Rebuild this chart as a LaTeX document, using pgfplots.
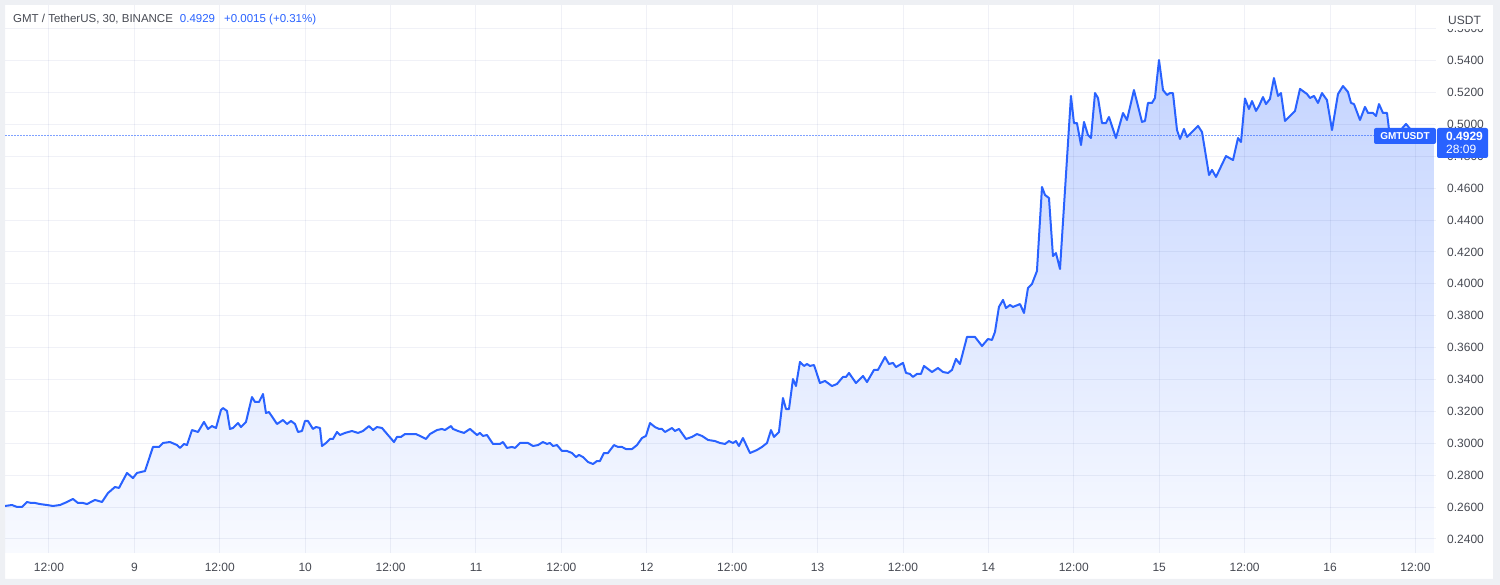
\documentclass[border=0pt]{standalone}
\usepackage{pgfplots}
\pgfplotsset{compat=1.18}
\usepackage{pgfplotstable}
\usepgfplotslibrary{fillbetween}
\usepackage{fontspec}
\setmainfont{Liberation Sans}

\definecolor{lineblue}{RGB}{41,98,255}
\definecolor{gridc}{RGB}{40,60,140}
\definecolor{fillTop}{RGB}{196,212,255}
\definecolor{fillBot}{RGB}{248,250,255}
\definecolor{txt}{RGB}{70,73,82}
\definecolor{outer}{RGB}{238,240,244}

% GMTUSDT, 30 min closes; x = hours since day 8 00:00
\pgfplotstableread{
h v
5.82 0.2607
6.80 0.2613
7.50 0.2601
8.21 0.2601
8.91 0.2632
9.47 0.2626
10.03 0.2626
10.74 0.2619
11.72 0.2613
12.56 0.2607
13.55 0.2613
14.53 0.2632
15.37 0.2651
16.07 0.2626
16.78 0.2626
17.34 0.2619
18.46 0.2645
19.45 0.2632
20.29 0.2688
21.27 0.2726
21.84 0.2720
22.96 0.2814
23.80 0.2782
24.36 0.2814
25.49 0.2826
26.61 0.2977
27.46 0.2977
28.02 0.3002
29.00 0.3008
29.99 0.2989
30.41 0.2971
30.97 0.2996
31.39 0.2989
32.09 0.3083
32.94 0.3071
33.78 0.3134
34.34 0.3090
34.90 0.3108
35.47 0.3096
36.17 0.3209
36.45 0.3221
37.01 0.3203
37.43 0.3090
37.85 0.3096
38.56 0.3127
38.98 0.3102
39.68 0.3134
40.52 0.3290
40.95 0.3259
41.51 0.3259
42.07 0.3309
42.49 0.3190
42.91 0.3196
44.04 0.3121
44.88 0.3146
45.44 0.3121
46.00 0.3140
46.57 0.3121
46.99 0.3071
47.55 0.3077
47.97 0.3140
48.39 0.3140
49.09 0.3090
49.52 0.3102
50.08 0.3096
50.36 0.2983
50.92 0.3002
51.48 0.3027
51.90 0.3027
52.47 0.3071
52.89 0.3052
53.59 0.3065
54.57 0.3077
55.42 0.3065
56.12 0.3077
56.96 0.3108
57.53 0.3083
58.09 0.3102
58.79 0.3096
59.63 0.3052
60.48 0.3008
60.90 0.3040
61.46 0.3040
62.02 0.3058
62.72 0.3058
63.57 0.3058
64.41 0.3040
64.97 0.3027
65.53 0.3058
66.52 0.3083
67.22 0.3090
67.64 0.3083
68.06 0.3096
68.49 0.3108
68.77 0.3090
69.47 0.3077
70.31 0.3065
71.16 0.3090
72.14 0.3052
72.56 0.3065
72.98 0.3046
73.54 0.3052
74.39 0.2996
75.37 0.2996
75.79 0.3008
76.35 0.2971
77.06 0.2977
77.48 0.2971
78.18 0.3002
79.30 0.3002
80.01 0.2983
80.71 0.2989
81.41 0.3008
81.97 0.2996
82.40 0.3002
82.82 0.2983
83.38 0.2989
84.08 0.2952
84.78 0.2952
85.49 0.2939
86.05 0.2914
86.47 0.2927
87.03 0.2914
87.73 0.2883
88.44 0.2870
89.00 0.2889
89.42 0.2889
89.98 0.2939
90.54 0.2939
91.39 0.2989
91.95 0.2977
92.51 0.2977
93.07 0.2964
93.92 0.2964
94.62 0.2989
95.32 0.3033
95.88 0.3046
96.45 0.3127
97.15 0.3102
97.71 0.3090
98.13 0.3090
98.56 0.3071
99.54 0.3096
99.96 0.3077
100.52 0.3090
101.51 0.3027
102.35 0.3040
103.05 0.3058
103.76 0.3046
104.60 0.3021
105.58 0.3014
106.28 0.3002
106.99 0.2996
107.55 0.3014
108.11 0.3002
108.53 0.3014
108.95 0.2983
109.51 0.3033
110.50 0.2939
111.48 0.2958
112.18 0.2977
112.89 0.3002
113.45 0.3083
113.87 0.3040
114.57 0.3071
115.13 0.3284
115.56 0.3215
115.98 0.3215
116.54 0.3403
116.96 0.3359
117.52 0.3510
118.09 0.3485
118.51 0.3497
118.93 0.3485
119.49 0.3491
120.33 0.3378
121.04 0.3391
122.02 0.3359
122.72 0.3372
123.56 0.3416
123.99 0.3416
124.41 0.3441
125.39 0.3378
126.38 0.3422
126.94 0.3384
127.92 0.3460
128.48 0.3460
129.47 0.3541
130.03 0.3497
130.59 0.3504
131.01 0.3478
132.00 0.3504
132.42 0.3441
132.98 0.3435
133.40 0.3416
133.96 0.3435
134.52 0.3435
134.95 0.3485
136.07 0.3447
136.91 0.3472
137.62 0.3447
138.32 0.3441
138.88 0.3460
139.44 0.3529
140.00 0.3497
140.99 0.3667
142.11 0.3667
143.10 0.3610
143.94 0.3654
144.50 0.3648
144.92 0.3698
145.48 0.3855
146.05 0.3899
146.47 0.3848
147.03 0.3867
147.45 0.3855
148.44 0.3873
149.00 0.3817
149.56 0.3974
150.12 0.3999
150.82 0.4080
151.53 0.4607
151.95 0.4557
152.51 0.4538
153.07 0.4174
153.49 0.4193
154.06 0.4093
155.60 0.5178
156.02 0.5008
156.44 0.5008
157.01 0.4870
157.43 0.5015
157.99 0.4933
158.41 0.4914
158.98 0.5196
159.40 0.5165
159.96 0.5008
160.52 0.5008
160.94 0.5046
161.92 0.4914
162.91 0.5071
163.47 0.5027
164.45 0.5215
165.58 0.5015
166.00 0.5021
166.42 0.5134
166.98 0.5134
167.40 0.5165
167.97 0.5403
168.53 0.5215
169.09 0.5184
169.51 0.5196
169.93 0.5196
170.50 0.4964
170.92 0.4908
171.48 0.4971
171.90 0.4921
172.75 0.4958
173.45 0.4990
174.01 0.4952
175.00 0.4682
175.42 0.4714
175.98 0.4670
177.38 0.4801
178.37 0.4776
179.07 0.4914
179.49 0.4889
180.05 0.5162
180.61 0.5096
181.04 0.5146
181.60 0.5084
182.02 0.5115
182.58 0.5171
183.00 0.5127
183.56 0.5159
184.12 0.5290
184.69 0.5178
185.11 0.5196
185.67 0.5021
187.08 0.5084
187.78 0.5222
188.76 0.5190
189.19 0.5165
189.75 0.5178
190.31 0.5134
190.87 0.5196
191.57 0.5152
192.28 0.4964
193.12 0.5190
193.82 0.5240
194.52 0.5203
194.95 0.5134
195.37 0.5127
196.21 0.5027
196.91 0.5109
197.34 0.5071
198.04 0.5071
198.46 0.5052
198.88 0.5127
199.44 0.5071
200.01 0.5071
200.43 0.4914
201.41 0.4939
202.68 0.5002
203.50 0.4958
204.60 0.4939
205.80 0.4920
206.60 0.4929
}\gmt

\begin{document}
\begin{tikzpicture}[x=1pt,y=1pt]
% grey margin round the white chart pane (a frame with a hole, so the
% axis layers underneath are not covered)
\fill[outer, even odd rule] (0,0) rectangle (1500,585) (5,6) rectangle (1493,580);

\begin{axis}[
  at={(5pt,32pt)}, anchor=south west,
  scale only axis, width=1431pt, height=548pt,
  xmin=5.82, xmax=206.89, ymin=0.23122, ymax=0.57482,
  axis line style={draw=none},
  major tick length=0pt,
  grid=major, grid style={color=gridc, draw opacity=0.07, line width=1pt},
  fill between/on layer=axis background,
  xtick={12,24,...,204},
  xticklabels={12:00,9,12:00,10,12:00,11,12:00,12,12:00,13,12:00,14,12:00,15,12:00,16,12:00},
  ytick={0.24,0.26,0.28,0.30,0.32,0.34,0.36,0.38,0.40,0.42,0.44,0.46,0.48,0.50,0.52,0.54,0.56},
  yticklabel pos=right,
  tick label style={font=\fontsize{12pt}{14pt}\selectfont, color=txt, inner sep=0pt},
  xticklabel style={anchor=center, yshift=-14pt},
  yticklabel style={anchor=west, xshift=11pt,
    /pgf/number format/.cd, fixed, fixed zerofill, precision=4, assume math mode=true},
  scaled y ticks=false,
]
\addplot[name path=price, draw=none] table[x=h, y=v] {\gmt};
\addplot[name path=base, draw=none] coordinates {(5.82,0.2312) (206.6,0.2312)};
\addplot[top color=fillTop, bottom color=fillBot, draw=none] fill between[of=price and base];
\addplot[lineblue, line width=2pt, line join=round] table[x=h, y=v] {\gmt};
\addplot[lineblue, draw opacity=0.6, line width=1pt, dash pattern=on 2pt off 1pt] coordinates {(5.82,0.4929) (206.89,0.4929)};
\end{axis}

% header legend
\node[anchor=west, inner sep=0pt, font=\fontsize{11.5pt}{14pt}\selectfont] at (13,565)
  {\textcolor{txt}{GMT / TetherUS, 30, BINANCE}\hspace{7pt}\textcolor{lineblue}{0.4929}\hspace{9pt}\textcolor{lineblue}{+0.0015 (+0.31\%)}};

% price scale caption
\fill[white] (1440,556) rectangle (1492,580);
\node[anchor=west, inner sep=0pt, font=\fontsize{12pt}{14pt}\selectfont, text=txt] at (1448,565) {USDT};

% last price labels
\fill[lineblue, rounded corners=2pt] (1374,441) rectangle (1436,457);
\node[inner sep=0pt, font=\fontsize{10pt}{12pt}\selectfont\bfseries, text=white] at (1405,449) {GMTUSDT};
\fill[lineblue, rounded corners=2pt] (1437,427) rectangle (1488,457);
\node[anchor=west, inner sep=0pt, font=\fontsize{12pt}{14pt}\selectfont\bfseries, text=white] at (1446,449) {0.4929};
\node[anchor=west, inner sep=0pt, font=\fontsize{12pt}{14pt}\selectfont, text=white] at (1446,436) {28:09};

\pgfresetboundingbox
\path[use as bounding box] (0,0) rectangle (1500,585);
\end{tikzpicture}
\end{document}
